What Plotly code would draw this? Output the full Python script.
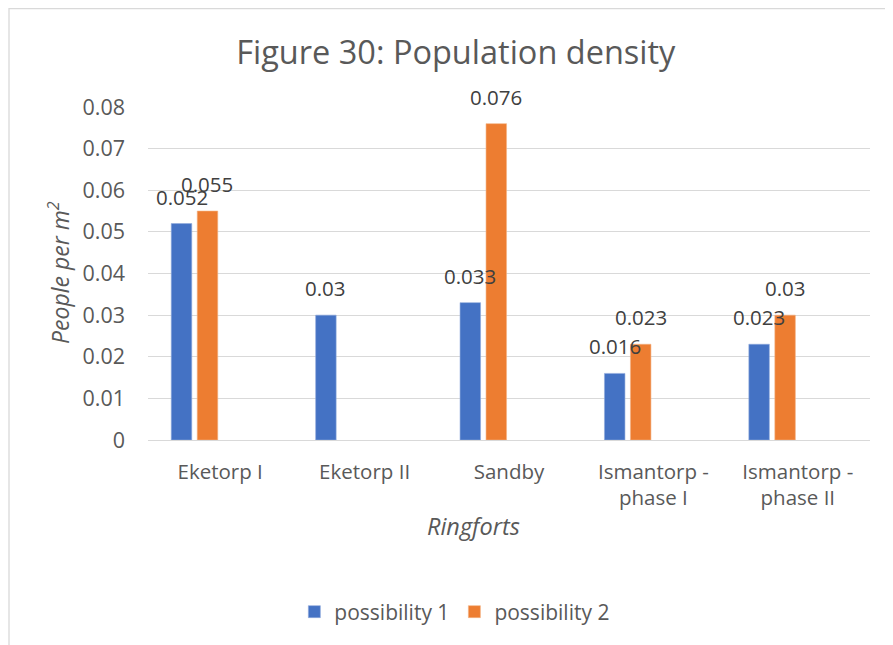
import plotly.graph_objects as go

categories = ["Eketorp I", "Eketorp II", "Sandby", "Ismantorp -<br>phase I", "Ismantorp -<br>phase II"]
possibility_1 = [0.052, 0.030, 0.033, 0.016, 0.023]
possibility_2 = [0.055, None, 0.076, 0.023, 0.030]
y_ticks = [0, 0.01, 0.02, 0.03, 0.04, 0.05, 0.06, 0.07, 0.08]
y_tick_labels = ["0", "0.01", "0.02", "0.03", "0.04", "0.05", "0.06", "0.07", "0.08"]

FONT = "Open Sans"
GRAY = "#595959"
LABEL = "#404040"

# page geometry (the page body has an 8px margin)
PX0, PX1, PY0, PY1 = 148, 870, 107, 440
PW, PH = PX1 - PX0, PY1 - PY0

def px_x(x):
    return (x - PX0) / PW

def px_y(y):
    return (PY1 - y) / PH

BAR_W = 0.142
OFF1, OFF2 = -0.339, -0.159

fig = go.Figure()
series = [
    ("possibility 1", possibility_1, "#4472C4", "#8FAADC", OFF1),
    ("possibility 2", possibility_2, "#ED7D31", "#F4B183", OFF2),
]
annotations = []
for name, vals, col, edge, off in series:
    fig.add_trace(go.Bar(
        x=categories, y=vals, name=name,
        marker=dict(color=col, line=dict(color=edge, width=0.6)),
        offset=off, width=BAR_W,
    ))
    for i, v in enumerate(vals):
        if v is None:
            continue
        annotations.append(dict(
            x=i + off + BAR_W / 2, y=v, xref="x", yref="y",
            text="%g" % v, showarrow=False, xanchor="center", yanchor="bottom",
            yshift=11, font=dict(family=FONT, size=20.5, color=LABEL),
        ))

annotations += [
    dict(text="<i>Ringforts</i>", xref="paper", yref="paper",
         x=px_x(473), y=px_y(526), xanchor="center", yanchor="middle",
         showarrow=False, font=dict(family=FONT, size=23.5, color=GRAY)),
    dict(text="<i>People per m<sup>2</sup></i>", xref="paper", yref="paper",
         x=px_x(59), y=px_y(273), xanchor="center", yanchor="middle",
         textangle=-90, showarrow=False, font=dict(family=FONT, size=23, color=GRAY)),
]

fig.update_layout(
    width=885, height=637, autosize=False,
    margin=dict(l=140, r=23, t=99, b=205),
    paper_bgcolor="white", plot_bgcolor="white",
    font=dict(family=FONT, color=GRAY, size=21),
    title=dict(text="Figure 30: Population density", x=0.506, xanchor="center",
               y=0.9294, yanchor="middle",
               font=dict(family=FONT, size=32.5, color=GRAY)),
    barmode="overlay",
    showlegend=True,
    legend=dict(orientation="h", x=0.425, xanchor="center", y=px_y(612), yanchor="middle",
                font=dict(family=FONT, size=21, color=GRAY), itemwidth=30,
                traceorder="normal"),
    xaxis=dict(type="category", showgrid=False, showline=False, zeroline=False,
               tickfont=dict(family=FONT, size=20.5, color=GRAY),
               ticks="", ticklabelstandoff=17, range=[-0.5, 4.5]),
    yaxis=dict(range=[0, 0.08], tickvals=y_ticks, ticktext=y_tick_labels,
               showgrid=True, gridcolor="#D9D9D9", gridwidth=1.3,
               zeroline=True, zerolinecolor="#D9D9D9", zerolinewidth=1.3,
               showline=False, ticks="", ticklabelstandoff=22,
               tickfont=dict(family=FONT, size=21.5, color=GRAY)),
    annotations=annotations,
    shapes=[
        dict(type="rect", xref="paper", yref="paper",
             x0=px_x(9), x1=px_x(910), y0=px_y(660), y1=px_y(8.5),
             line=dict(color="#D9D9D9", width=1.3), fillcolor="rgba(0,0,0,0)", layer="below"),
    ],
)

fig.write_html("out.html")
